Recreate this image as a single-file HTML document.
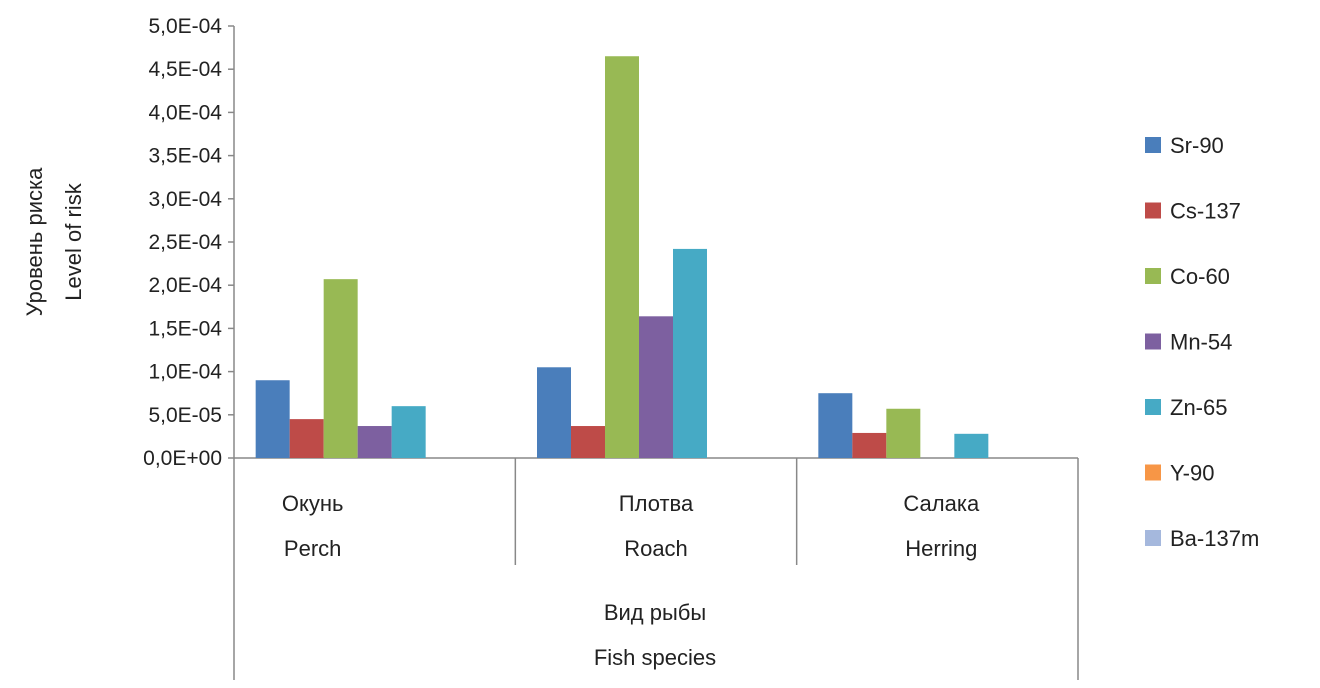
<!DOCTYPE html>
<html><head><meta charset="utf-8"><style>
body{margin:0;background:#fff;}
svg{display:block;font-family:"Liberation Sans","Noto Sans CJK SC",sans-serif;}
</style></head><body>
<svg id="chart" width="1320" height="688" viewBox="0 0 1320 688">
<g id="axes"></g><g id="bars"></g><g id="legend"></g>
<text transform="translate(42,242) rotate(-90)" text-anchor="middle" font-size="22" fill="#222">Уровень риска</text>
<text transform="translate(81,242) rotate(-90)" text-anchor="middle" font-size="22" fill="#222">Level of risk</text>
<text x="655" y="620" text-anchor="middle" font-size="22" fill="#222">Вид рыбы</text>
<text x="655" y="665" text-anchor="middle" font-size="22" fill="#222">Fish species</text>
</svg>
<script>
const categoriesRu = ["Окунь","Плотва","Салака"];
const categoriesEn = ["Perch","Roach","Herring"];
const seriesNames = ["Sr-90","Cs-137","Co-60","Mn-54","Zn-65","Y-90","Ba-137m"];
const seriesColors = ["#4a7ebb","#be4b48","#98b954","#7d60a0","#46aac5","#f79646","#a5b8dd"];
const sr90 = [0.90e-4,1.05e-4,0.75e-4];
const cs137 = [0.45e-4,0.37e-4,0.29e-4];
const co60 = [2.07e-4,4.65e-4,0.57e-4];
const mn54 = [0.37e-4,1.64e-4,0];
const zn65 = [0.60e-4,2.42e-4,0.28e-4];
const y90 = [0,0,0];
const ba137m = [0,0,0];
const seriesValues = [sr90,cs137,co60,mn54,zn65,y90,ba137m];
const yTicks = [0,0.5e-4,1e-4,1.5e-4,2e-4,2.5e-4,3e-4,3.5e-4,4e-4,4.5e-4,5e-4];
const yTickLabels = ["0,0E+00","5,0E-05","1,0E-04","1,5E-04","2,0E-04","2,5E-04","3,0E-04","3,5E-04","4,0E-04","4,5E-04","5,0E-04"];

const NS="http://www.w3.org/2000/svg";
const X0=234,X1=1078,Y0=458,YT=26,YMAX=5e-4;
const gw=(X1-X0)/categoriesRu.length;
const bw=34;
const labelShift=[-62,0,4];
function yScale(v){return Y0-(v/YMAX)*(Y0-YT);}
function xGroup(i){return X0+i*gw;}
function mk(tag,attrs,parent){const e=document.createElementNS(NS,tag);for(const k in attrs)e.setAttribute(k,attrs[k]);parent.appendChild(e);return e;}
const axes=document.getElementById('axes'),bars=document.getElementById('bars'),legend=document.getElementById('legend');

let l=mk('line',{x1:X0,y1:YT,x2:X0,y2:680,stroke:'#888','stroke-width':1.5},axes);


l=mk('line',{x1:X0,y1:Y0,x2:X1,y2:Y0,stroke:'#888','stroke-width':1.5},axes);


l=mk('line',{x1:X1,y1:Y0,x2:X1,y2:680,stroke:'#888','stroke-width':1.5},axes);


for(let i=1;i<categoriesRu.length;i++){
  const d=mk('line',{x1:xGroup(i),y1:Y0,x2:xGroup(i),y2:565,stroke:'#888','stroke-width':1.5},axes);
  
  
}
yTicks.forEach((v,i)=>{
  const y=yScale(v);
  const tk=mk('line',{x1:X0-6,y1:y,x2:X0,y2:y,stroke:'#888','stroke-width':1.5},axes);
  
  
  const t=mk('text',{x:X0-12,y:y+7,'text-anchor':'end','font-size':21,fill:'#222'},axes);
  t.textContent=yTickLabels[i];
  
  
});
categoriesRu.forEach((c,i)=>{
  const cx=xGroup(i)+gw/2+labelShift[i];
  const t1=mk('text',{x:cx,y:511,'text-anchor':'middle','font-size':22,fill:'#222'},axes);
  t1.textContent=c;
  
  
  const t2=mk('text',{x:cx,y:556,'text-anchor':'middle','font-size':22,fill:'#222'},axes);
  t2.textContent=categoriesEn[i];
  
  
});
const off=(gw-bw*seriesNames.length)/2;
seriesValues.forEach((vals,s)=>{
  vals.forEach((v,i)=>{
    if(v<=0)return;
    const y=yScale(v);
    const r=mk('rect',{x:xGroup(i)+off+s*bw,y:y,width:bw,height:Y0-y,fill:seriesColors[s]},bars);
    
    
  });
});
seriesNames.forEach((n,s)=>{
  const y=145+s*65.5;
  const g=mk('g',{},legend);
  
  
  mk('rect',{x:1145,y:y-8,width:16,height:16,fill:seriesColors[s]},g);
  const t=mk('text',{x:1170,y:y+8,'font-size':22,fill:'#222'},g);
  t.textContent=n;
});
</script>
</body></html>
